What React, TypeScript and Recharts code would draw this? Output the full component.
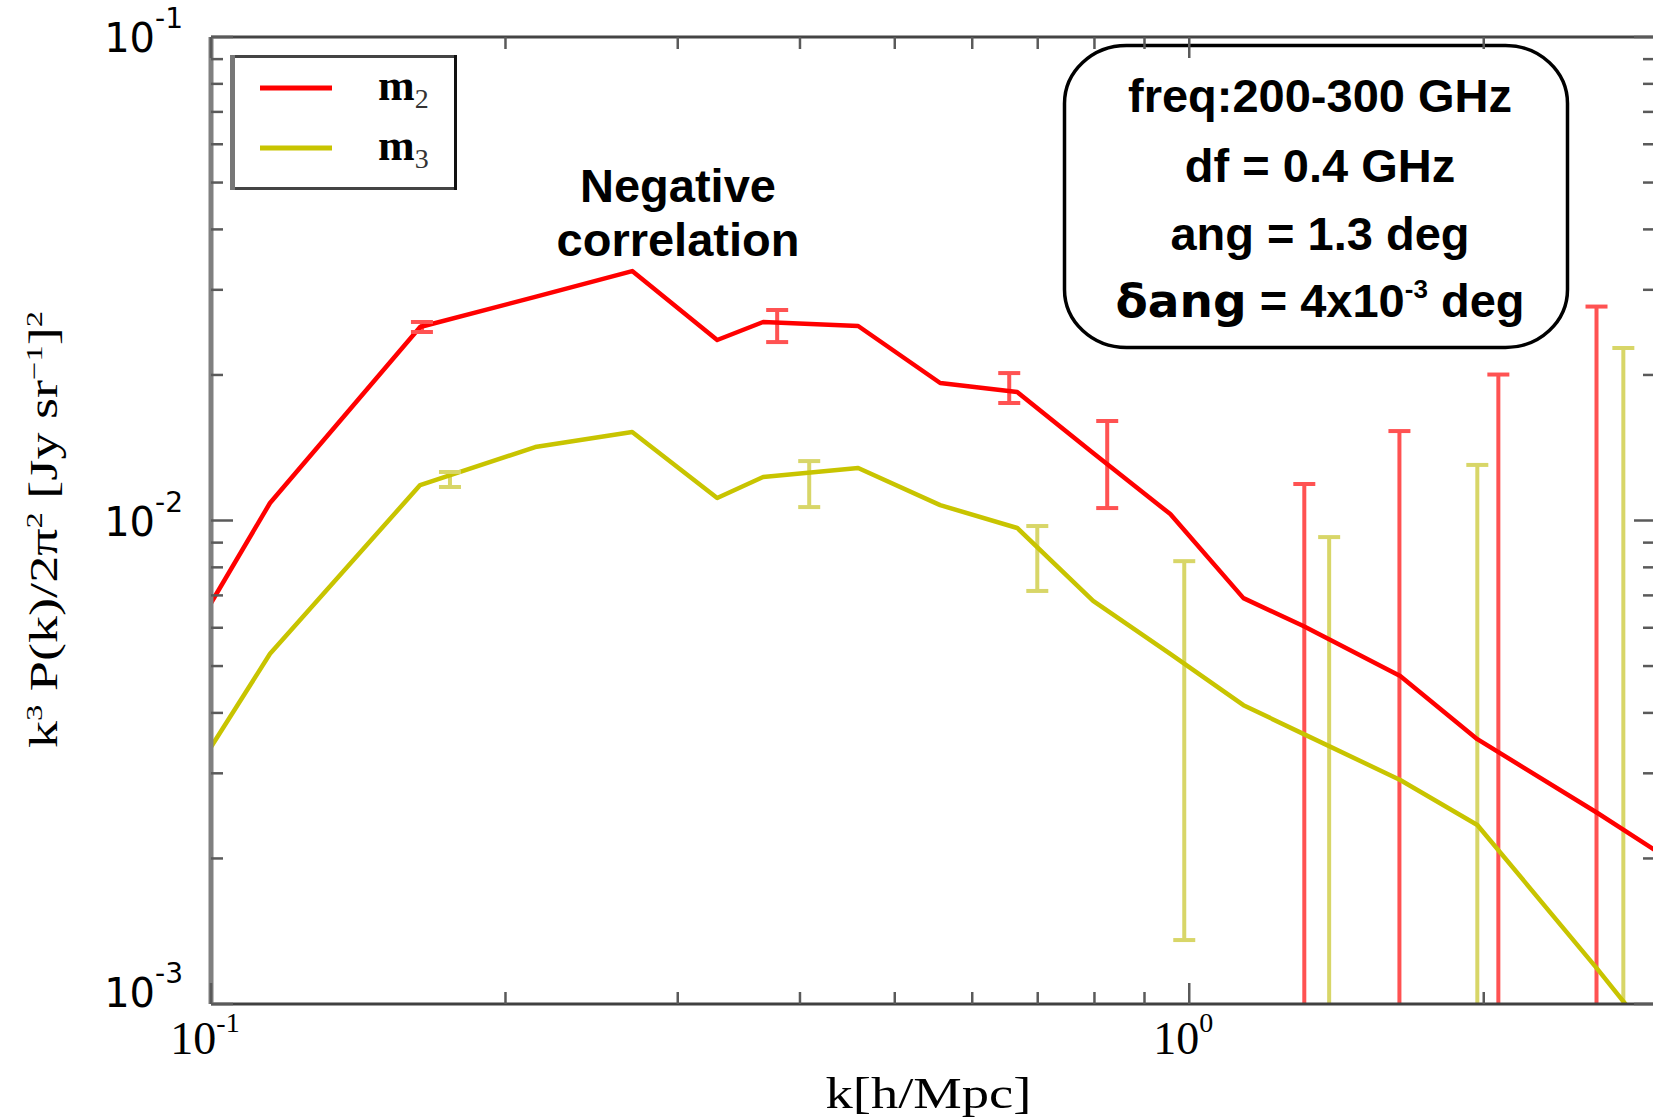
import React from 'react'
import { ComposedChart, Line, XAxis, YAxis, Legend, Customized, Label } from 'recharts'

// k values of the line vertices [h/Mpc]
const kLine = [0.1, 0.1149, 0.1636, 0.2145, 0.2695, 0.3292, 0.3668, 0.4587, 0.5564, 0.667, 0.7975, 0.9563, 1.136, 1.308, 1.643, 1.97, 2.614, 3.33]
const m2 = [0.00675, 0.01087, 0.02513, 0.029, 0.0328, 0.02362, 0.02574, 0.02525, 0.01925, 0.01844, 0.01379, 0.01031, 0.00691, 0.00605, 0.00477, 0.00353, 0.002483, 0.00181]
const m3 = [0.0034, 0.0053, 0.01184, 0.01419, 0.01524, 0.01113, 0.0123, 0.01284, 0.01076, 0.00965, 0.00682, 0.0053, 0.00415, 0.00362, 0.002906, 0.002346, 0.001181, 0.00064]

// error bars (slightly offset in k from the line vertices); big ones run off the bottom
const m2ErrK = [0.1643, 0.3791, 0.6546, 0.8244, 1.311, 1.64, 2.07, 2.608]
const m2ErrLo = [0.02454, 0.02339, 0.0175, 0.01061, 0.0001, 0.0001, 0.0001, 0.0001]
const m2ErrHi = [0.02574, 0.02725, 0.02018, 0.01606, 0.0119, 0.01531, 0.02004, 0.0277]

const m3ErrK = [0.1755, 0.4088, 0.6993, 0.9883, 1.39, 1.97, 2.778]
const m3ErrLo = [0.01173, 0.01066, 0.00715, 0.001356, 0.0001, 0.0001, 0.0001]
const m3ErrHi = [0.0126, 0.01327, 0.00974, 0.00824, 0.00924, 0.01303, 0.02274]

const xTicks = [0.1, 0.2, 0.3, 0.4, 0.5, 0.6, 0.7, 0.8, 0.9, 1, 2]
const yTicks = [0.001, 0.002, 0.003, 0.004, 0.005, 0.006, 0.007, 0.008, 0.009, 0.01, 0.02, 0.03, 0.04, 0.05, 0.06, 0.07, 0.08, 0.09, 0.1]

const RED = '#ff0000'
const YEL = '#c8c400'
const RED_ERR = '#ff5252'
const YEL_ERR = '#d8d668'

const lineData = kLine.map((k, i) => ({ k, m2: m2[i], m3: m3[i] }))
// each bar = two points at the same k, then a null to break the path
const barRows = (ks: number[], lo: number[], hi: number[]) =>
  ks.flatMap((k, i) => [{ k, v: lo[i] }, { k, v: hi[i] }, { k, v: null }])
const errRed = barRows(m2ErrK, m2ErrLo, m2ErrHi)
const errYel = barRows(m3ErrK, m3ErrLo, m3ErrHi)

const isDecade = (v: number) => Math.abs(Math.log10(v) - Math.round(Math.log10(v))) < 1e-6
const expOf = (v: number) => String(Math.round(Math.log10(v)))
const TICK = '#5a5a5a'

const capDot = (color: string) => (props: any) => {
  const { cx, cy, index, payload } = props
  if (payload == null || payload.v == null || cy == null) return <g key={`c-${index}`} />
  return <line key={`c-${index}`} x1={cx - 11} x2={cx + 11} y1={cy} y2={cy} stroke={color} strokeWidth={4} />
}

function BottomTick({ x, y, payload }: any) {
  const major = isDecade(payload.value)
  return (
    <g>
      <line x1={x} x2={x} y1={y} y2={y - (major ? 21 : 12)} stroke={TICK} strokeWidth={2.5} />
      {major && (
        <text x={x - 6} y={y + 50} textAnchor="middle" fontFamily="Liberation Serif" fontSize={46} fill="#000">
          10<tspan fontSize={28} dy={-22}>{expOf(payload.value)}</tspan>
        </text>
      )}
    </g>
  )
}

function TopTick({ x, y, payload }: any) {
  const major = isDecade(payload.value)
  return <line x1={x} x2={x} y1={y} y2={y + (major ? 21 : 12)} stroke={TICK} strokeWidth={2.5} />
}

function LeftTick({ x, y, payload }: any) {
  const v = payload.value
  const major = isDecade(v)
  const shift = v === yTicks[0] ? -12 : 0
  return (
    <g>
      <line x1={x} x2={x + (major ? 22 : 12)} y1={y} y2={y} stroke={TICK} strokeWidth={2.5} />
      {major && (
        <text x={x - 28} y={y + 15 + shift} textAnchor="end" fontFamily="DejaVu Sans" fontSize={40} fill="#000">
          10<tspan fontSize={28} dy={-24}>{expOf(v)}</tspan>
        </text>
      )}
    </g>
  )
}

function RightTick({ x, y, payload }: any) {
  const major = isDecade(payload.value)
  return <line x1={x} x2={x - (major ? 22 : 13)} y1={y} y2={y} stroke={TICK} strokeWidth={2.5} />
}

function XTitle({ viewBox }: any) {
  return (
    <text x={viewBox.x + viewBox.width / 2 - 5} y={viewBox.y + 104} textAnchor="middle" fontFamily="Liberation Serif" fontSize={44} textLength={206} lengthAdjust="spacingAndGlyphs" fill="#000">
      k[h/Mpc]
    </text>
  )
}

function YTitle({ viewBox }: any) {
  const cy = viewBox.y + viewBox.height / 2 + 9
  return (
    <text transform={`translate(57, ${cy}) rotate(-90)`} textAnchor="middle" fontFamily="Liberation Serif" fontSize={40} textLength={437} lengthAdjust="spacingAndGlyphs" fill="#000">
      k<tspan dy={-15} fontSize={24}>3</tspan>
      <tspan dy={15}> P(k)/2π</tspan>
      <tspan dy={-15} fontSize={24}>2</tspan>
      <tspan dy={15}>  [Jy sr</tspan>
      <tspan dy={-15} fontSize={24}>−1</tspan>
      <tspan dy={15}>]</tspan>
      <tspan dy={-15} fontSize={24}>2</tspan>
    </text>
  )
}

function LegendBox(props: any) {
  const items = (props.payload || []).filter((p: any) => p.type !== 'none')
  return (
    <svg width={227} height={135} style={{ display: 'block' }}>
      <rect x={0} y={0} width={227} height={135} fill="#fff" />
      <line x1={0} x2={227} y1={1.5} y2={1.5} stroke="#444" strokeWidth={3} />
      <line x1={0} x2={227} y1={133.5} y2={133.5} stroke="#444" strokeWidth={3} />
      <line x1={2.5} x2={2.5} y1={0} y2={135} stroke="#777" strokeWidth={5} />
      <line x1={225.5} x2={225.5} y1={0} y2={135} stroke="#111" strokeWidth={3} />
      {items.map((it: any, i: number) => (
        <g key={i}>
          <line x1={30} x2={102} y1={33 + i * 60} y2={33 + i * 60} stroke={it.color} strokeWidth={5} />
          <text x={148} y={45 + i * 60} fontFamily="Liberation Serif" fontWeight="bold" fontSize={44} fill="#000">
            {String(it.value).charAt(0)}
            <tspan fontWeight="normal" fontSize={28} dy={8} fill="#333">{String(it.value).slice(1)}</tspan>
          </text>
        </g>
      ))}
    </svg>
  )
}

function Notes() {
  return (
    <g fontFamily="Liberation Sans" fontWeight="bold" fontSize={47} fill="#000">
      <text x={678} y={202} textAnchor="middle">Negative</text>
      <text x={678} y={256} textAnchor="middle">correlation</text>
      <rect x={1064.5} y={45.5} width={503} height={302} rx={62} ry={58} fill="none" stroke="#000" strokeWidth={3.5} />
      <text x={1320} y={112} textAnchor="middle">freq:200-300 GHz</text>
      <text x={1320} y={182} textAnchor="middle">df = 0.4 GHz</text>
      <text x={1320} y={250} textAnchor="middle">ang = 1.3 deg</text>
      <text x={1320} y={317} textAnchor="middle">
        <tspan fontFamily="DejaVu Sans">δang</tspan>
        <tspan> = 4x10</tspan>
        <tspan fontSize={26} dy={-19}>-3</tspan>
        <tspan dy={19}> deg</tspan>
      </text>
    </g>
  )
}

export default function App() {
  return (
    <div style={{ position: 'absolute', left: 0, top: 0, width: 1653, height: 1120, overflow: 'hidden', background: '#fff' }}>
      <ComposedChart width={1657} height={1120} margin={{ top: 36, right: 0, bottom: 0, left: 0 }}>
        <XAxis xAxisId={0} dataKey="k" type="number" scale="log" domain={[0.1, 3]} allowDataOverflow ticks={xTicks} interval={0}
          height={116} tickSize={0} tickMargin={0} tickLine={false} tick={<BottomTick />} axisLine={{ stroke: '#404040', strokeWidth: 3 }}>
          <Label content={<XTitle />} />
        </XAxis>
        <XAxis xAxisId="t" orientation="top" dataKey="k" type="number" scale="log" domain={[0.1, 3]} allowDataOverflow ticks={xTicks} interval={0}
          height={1} tickSize={0} tickMargin={0} tickLine={false} tick={<TopTick />} axisLine={{ stroke: '#444', strokeWidth: 3 }} />
        <YAxis yAxisId={0} type="number" scale="log" domain={[0.001, 0.1]} allowDataOverflow ticks={yTicks} interval={0}
          width={211} tickSize={0} tickMargin={0} tickLine={false} tick={<LeftTick />} axisLine={{ stroke: '#808080', strokeWidth: 5 }}>
          <Label content={<YTitle />} />
        </YAxis>
        <YAxis yAxisId="r" orientation="right" type="number" scale="log" domain={[0.001, 0.1]} allowDataOverflow ticks={yTicks} interval={0}
          width={1} tickSize={0} tickMargin={0} tickLine={false} tick={<RightTick />} axisLine={{ stroke: '#808080', strokeWidth: 5 }} />
        <Line data={errRed} dataKey="v" name="m2 err" legendType="none" type="linear" stroke={RED_ERR} strokeWidth={4}
          dot={capDot(RED_ERR)} activeDot={false} isAnimationActive={false} />
        <Line data={errYel} dataKey="v" name="m3 err" legendType="none" type="linear" stroke={YEL_ERR} strokeWidth={4}
          dot={capDot(YEL_ERR)} activeDot={false} isAnimationActive={false} />
        <Line data={lineData} dataKey="m2" name="m2" type="linear" stroke={RED} strokeWidth={4.5} dot={false} isAnimationActive={false} strokeLinejoin="round" />
        <Line data={lineData} dataKey="m3" name="m3" type="linear" stroke={YEL} strokeWidth={4.5} dot={false} isAnimationActive={false} strokeLinejoin="round" />
        <Legend layout="vertical" align="center" verticalAlign="middle" content={<LegendBox />}
          wrapperStyle={{ left: 230, top: 55, width: 227, height: 135 }} />
        <Customized component={<Notes />} />
      </ComposedChart>
    </div>
  )
}
